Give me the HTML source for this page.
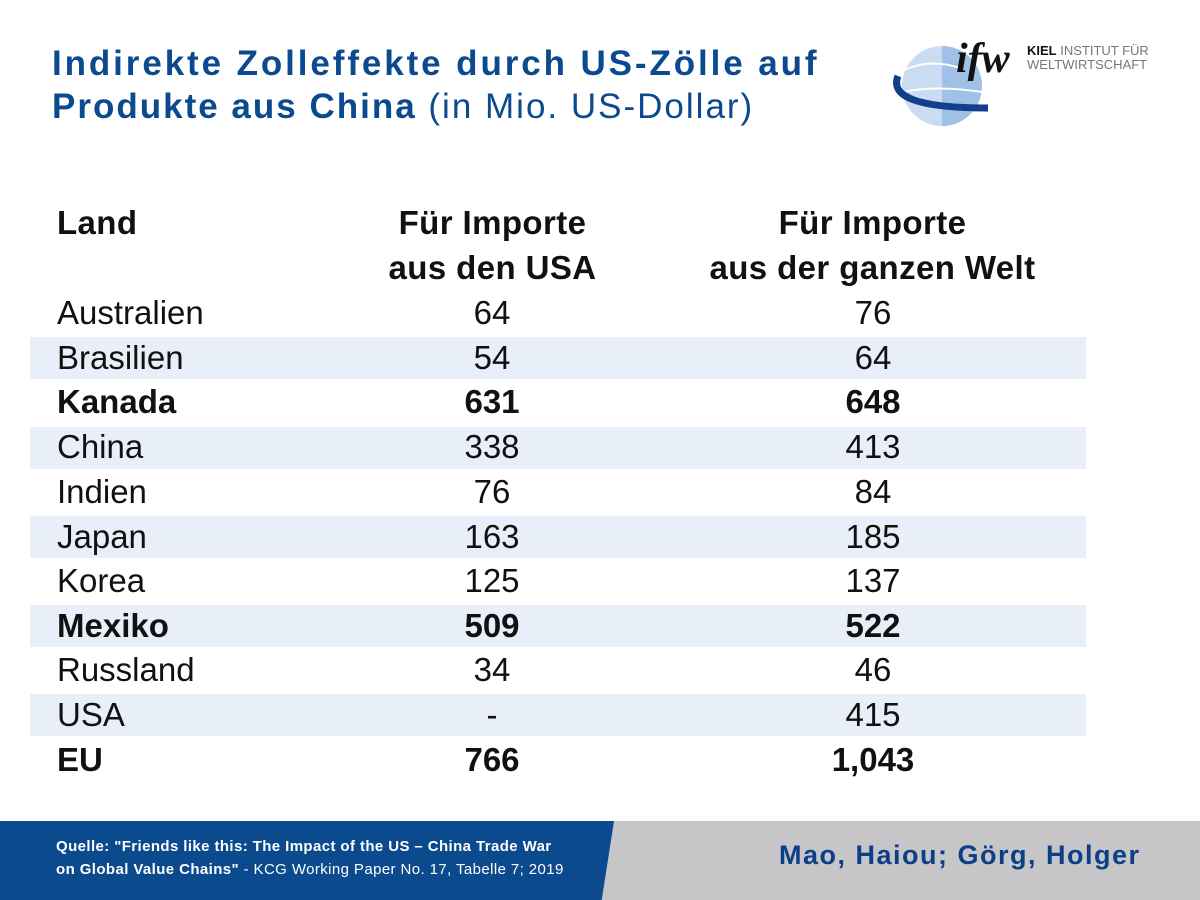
<!DOCTYPE html>
<html><head><meta charset="utf-8"><style>
body{margin:0;width:1200px;height:900px;position:relative;background:#fff;font-family:"Liberation Sans",sans-serif;overflow:hidden}
.t{position:absolute;left:52px;color:#0b4a8e;font-size:35px;font-weight:bold;white-space:nowrap}
.t span{font-weight:normal}
.band{position:absolute;left:30px;width:1056px;height:42px;background:#e8eff8}
.r{position:absolute;left:0;width:1200px;height:44px;font-size:33px;color:#111;line-height:44px}
.r div{position:absolute;top:0}
.c1{left:57px}
.c2{left:392px;width:200px;text-align:center}
.c3{left:773px;width:200px;text-align:center}
.b{font-weight:bold}
.h{position:absolute;font-size:33px;font-weight:bold;color:#111;line-height:45px;text-align:center;letter-spacing:0.4px}
</style></head><body>
<div class="t" style="top:44px;letter-spacing:2.9px">Indirekte Zolleffekte durch US-Zölle auf</div>
<div class="t" style="top:87px;letter-spacing:2px">Produkte aus China <span>(in Mio. US-Dollar)</span></div>
<svg style="position:absolute;left:890px;top:30px" width="260" height="100" viewBox="0 0 260 100">
<circle cx="52" cy="56" r="40" fill="#c9dcf1"/>
<path d="M52 16 A40 40 0 0 1 52 96 Z" fill="#9fc1e6"/>
<path d="M14 40 Q40 28 70 38" stroke="#fff" stroke-width="2" fill="none"/>
<path d="M13 62 Q45 55 92 62" stroke="#fff" stroke-width="2" fill="none"/>
<path d="M8 46 Q-5 78 98 78" stroke="#123f8c" stroke-width="7" fill="none"/>
<text x="66" y="42" font-family="Liberation Serif" font-style="italic" font-weight="bold" font-size="42" fill="#111">ifw</text>
<text x="137" y="25" font-size="13" fill="#111" font-family="Liberation Sans"><tspan font-weight="bold">KIEL</tspan><tspan fill="#777"> INSTITUT FÜR</tspan></text>
<text x="137" y="39" font-size="13" fill="#777" font-family="Liberation Sans">WELTWIRTSCHAFT</text>
</svg>
<div class="h" style="left:57px;top:200px;text-align:left">Land</div>
<div class="h" style="left:350px;top:200px;width:285px">Für Importe<br>aus den USA</div>
<div class="h" style="left:670px;top:200px;width:405px">Für Importe<br>aus der ganzen Welt</div>
<div class="band" style="top:337px"></div>
<div class="band" style="top:427px"></div>
<div class="band" style="top:516px"></div>
<div class="band" style="top:605px"></div>
<div class="band" style="top:694px"></div>
<div class="r" style="top:291px"><div class="c1">Australien</div><div class="c2">64</div><div class="c3">76</div></div>
<div class="r" style="top:336px"><div class="c1">Brasilien</div><div class="c2">54</div><div class="c3">64</div></div>
<div class="r b" style="top:380px"><div class="c1">Kanada</div><div class="c2">631</div><div class="c3">648</div></div>
<div class="r" style="top:425px"><div class="c1">China</div><div class="c2">338</div><div class="c3">413</div></div>
<div class="r" style="top:470px"><div class="c1">Indien</div><div class="c2">76</div><div class="c3">84</div></div>
<div class="r" style="top:515px"><div class="c1">Japan</div><div class="c2">163</div><div class="c3">185</div></div>
<div class="r" style="top:559px"><div class="c1">Korea</div><div class="c2">125</div><div class="c3">137</div></div>
<div class="r b" style="top:604px"><div class="c1">Mexiko</div><div class="c2">509</div><div class="c3">522</div></div>
<div class="r" style="top:648px"><div class="c1">Russland</div><div class="c2">34</div><div class="c3">46</div></div>
<div class="r" style="top:693px"><div class="c1">USA</div><div class="c2">-</div><div class="c3">415</div></div>
<div class="r b" style="top:738px"><div class="c1">EU</div><div class="c2">766</div><div class="c3">1,043</div></div>
<div style="position:absolute;left:0;top:821px;width:1200px;height:79px;background:#c6c5c7"></div>
<div style="position:absolute;left:0;top:821px;width:614px;height:79px;background:#0c4a8e;clip-path:polygon(0 0,100% 0,98% 100%,0 100%)"></div>
<div style="position:absolute;left:56px;top:835px;color:#fff;font-size:15px;line-height:23px;white-space:nowrap;letter-spacing:0.4px"><b>Quelle: "Friends like this: The Impact of the US – China Trade War<br>on Global Value Chains"</b> - KCG Working Paper No. 17, Tabelle 7; 2019</div>
<div style="position:absolute;left:779px;top:840px;color:#0b3f86;font-size:27px;font-weight:bold;white-space:nowrap;letter-spacing:1.5px">Mao, Haiou; Görg, Holger</div>
</body></html>
